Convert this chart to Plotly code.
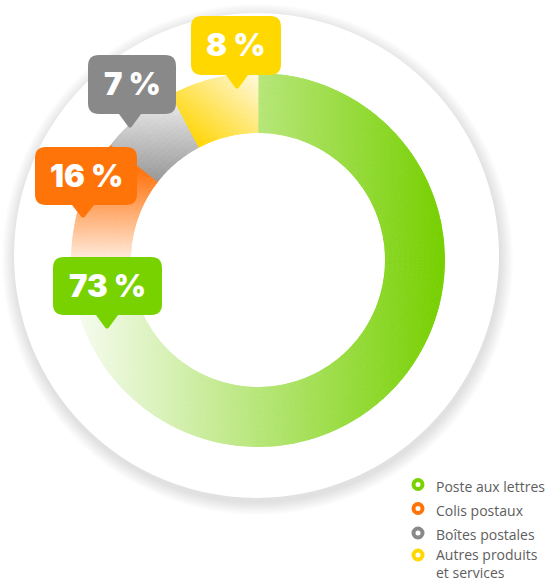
import numpy as np
import plotly.graph_objects as go

# ---------------- data ----------------
categories = ["Poste aux lettres", "Colis postaux", "Boîtes postales", "Autres produits et services"]
legend_labels = ["Poste aux lettres", "Colis postaux", "Boîtes postales", "Autres produits<br>et services"]
values = [73, 16, 7, 8]
colors = ["#78d200", "#ff7409", "#898989", "#ffd800"]

# ---------------- layout constants (pixels) ----------------
W, H = 550, 582
CX, CY, R_OUT, R_IN = 258, 260, 187, 127
BG_CX, BG_CY, BG_R = 256.5, 255.5, 242.5


def hex2rgb(h):
    h = h.lstrip("#")
    return np.array([int(h[i:i + 2], 16) for i in (0, 2, 4)], dtype=float)


def mix(c0, c1, t):
    t = min(max(t, 0.0), 1.0)
    c = hex2rgb(c0) * (1 - t) + hex2rgb(c1) * t
    return "rgb(%d,%d,%d)" % tuple(np.round(c).astype(int))


# gradient styles per slice: (start point, end point, start colour, end colour)
gradients = [
    ((75, 0), (445, 0), "#f7fcf1", "#76d000"),
    ((0, 172), (0, 264), "#ff7510", "#fff3ea"),
    ((0, 95), (0, 192), "#efefef", "#8c8c8c"),
    ((198, 148), (262, 72), "#ffd500", "#fffbe8"),
]


def grad_color(i, x, y):
    (x0, y0), (x1, y1), c0, c1 = gradients[i]
    dx, dy = x1 - x0, y1 - y0
    t = ((x - x0) * dx + (y - y0) * dy) / (dx * dx + dy * dy)
    return mix(c0, c1, t)


# ---------------- build gradient ring from the values ----------------
total = sum(values)
K = 12  # radial bands
theta, width, base, rr, cols = [], [], [], [], []
start = 0.0
for i, v in enumerate(values):
    span = 360.0 * v / total
    n = max(int(round(span / 1.0)), 1)
    step = span / n
    for j in range(n):
        a = start + (j + 0.5) * step
        for k in range(K):
            rho = (k + 0.5) / K
            rp = R_IN + rho * (R_OUT - R_IN)
            x = CX + rp * np.sin(np.radians(a))
            y = CY - rp * np.cos(np.radians(a))
            theta.append(a)
            width.append(step)
            base.append(k / K)
            rr.append(1.0 / K)
            cols.append(grad_color(i, x, y))
    start += span

fig = go.Figure()

fig.add_trace(go.Barpolar(
    theta=theta, r=rr, base=base, width=width,
    marker=dict(color=cols, line=dict(color=cols, width=0.8)),
    hoverinfo="skip", showlegend=False,
))

# legend markers (scatter on pixel overlay axis)
leg_x = 418
leg_y = [484.5, 508.5, 533, 555]
fig.add_trace(go.Scatter(
    x=[leg_x] * len(categories), y=leg_y, mode="markers",
    marker=dict(symbol="circle", size=9, color="white",
                line=dict(color=colors, width=4)),
    hoverinfo="skip", showlegend=False, xaxis="x", yaxis="y",
))

shapes = []
# background disc with soft shadow
for k in range(1, 11):
    shapes.append(dict(type="circle", xref="x", yref="y", layer="below",
                       x0=BG_CX + 1 - BG_R - k * 1.3, x1=BG_CX + 1 + BG_R + k * 1.3,
                       y0=BG_CY + 4 - BG_R - k * 1.3, y1=BG_CY + 4 + BG_R + k * 1.3,
                       fillcolor="rgba(0,0,0,0.011)", line=dict(width=0)))
shapes.append(dict(type="circle", xref="x", yref="y", layer="below",
                   x0=BG_CX - BG_R, x1=BG_CX + BG_R, y0=BG_CY - BG_R, y1=BG_CY + BG_R,
                   fillcolor="white", line=dict(width=0)))

# callouts (box x0, y0, x1, y1, tip x, tip y) in category order
callouts = [
    (53, 257, 162, 315, 107, 329),
    (35, 147, 137, 205, 83, 218),
    (88, 55, 176, 114, 130, 128),
    (191, 16, 281, 75, 237, 89),
]


def callout_path(x0, y0, x1, y1, tx, ty, r=11, hw=11):
    return (f"M {x0 + r},{y0} L {x1 - r},{y0} Q {x1},{y0} {x1},{y0 + r} "
            f"L {x1},{y1 - r} Q {x1},{y1} {x1 - r},{y1} L {tx + hw},{y1} "
            f"L {tx + 1.5},{ty - 1} Q {tx},{ty} {tx - 1.5},{ty - 1} L {tx - hw},{y1} "
            f"L {x0 + r},{y1} Q {x0},{y1} {x0},{y1 - r} L {x0},{y0 + r} "
            f"Q {x0},{y0} {x0 + r},{y0} Z")


annotations = []
for i, (x0, y0, x1, y1, tx, ty) in enumerate(callouts):
    shapes.append(dict(type="path", xref="x", yref="y", layer="above",
                       path=callout_path(x0, y0, x1, y1, tx, ty),
                       fillcolor=colors[i], line=dict(width=0)))
    annotations.append(dict(x=(x0 + x1) / 2, y=(y0 + y1) / 2 - 1, xref="x", yref="y",
                            text=f"{values[i]} %", showarrow=False,
                            xanchor="center", yanchor="middle",
                            font=dict(family="Inter", size=31, color="white", weight=900)))

# legend text
for i, lab in enumerate(legend_labels):
    annotations.append(dict(x=434, y=min(leg_y[i] - 10, H - 39), xref="x", yref="y",
                            text=lab, showarrow=False, xanchor="left", yanchor="top",
                            align="left",
                            font=dict(family="Open Sans", size=14, color="#5e5e5e")))

fig.update_layout(
    width=W, height=H,
    margin=dict(l=0, r=0, t=0, b=0),
    paper_bgcolor="white", plot_bgcolor="rgba(0,0,0,0)",
    showlegend=False,
    xaxis=dict(range=[0, W], visible=False, fixedrange=True),
    yaxis=dict(range=[H, 0], visible=False, fixedrange=True),
    polar=dict(
        domain=dict(x=[(CX - R_OUT) / W, (CX + R_OUT) / W],
                    y=[(H - CY - R_OUT) / H, (H - CY + R_OUT) / H]),
        hole=R_IN / R_OUT,
        bgcolor="rgba(0,0,0,0)",
        bargap=0, barmode="overlay",
        angularaxis=dict(rotation=90, direction="clockwise", visible=False,
                         showgrid=False, showline=False),
        radialaxis=dict(range=[0, 1], visible=False, showgrid=False, showline=False),
    ),
    shapes=shapes,
    annotations=annotations,
)

fig.write_html("out.html",
               config={"displayModeBar": False},
               post_script="document.body.style.margin='0px';document.body.style.overflow='hidden';")
